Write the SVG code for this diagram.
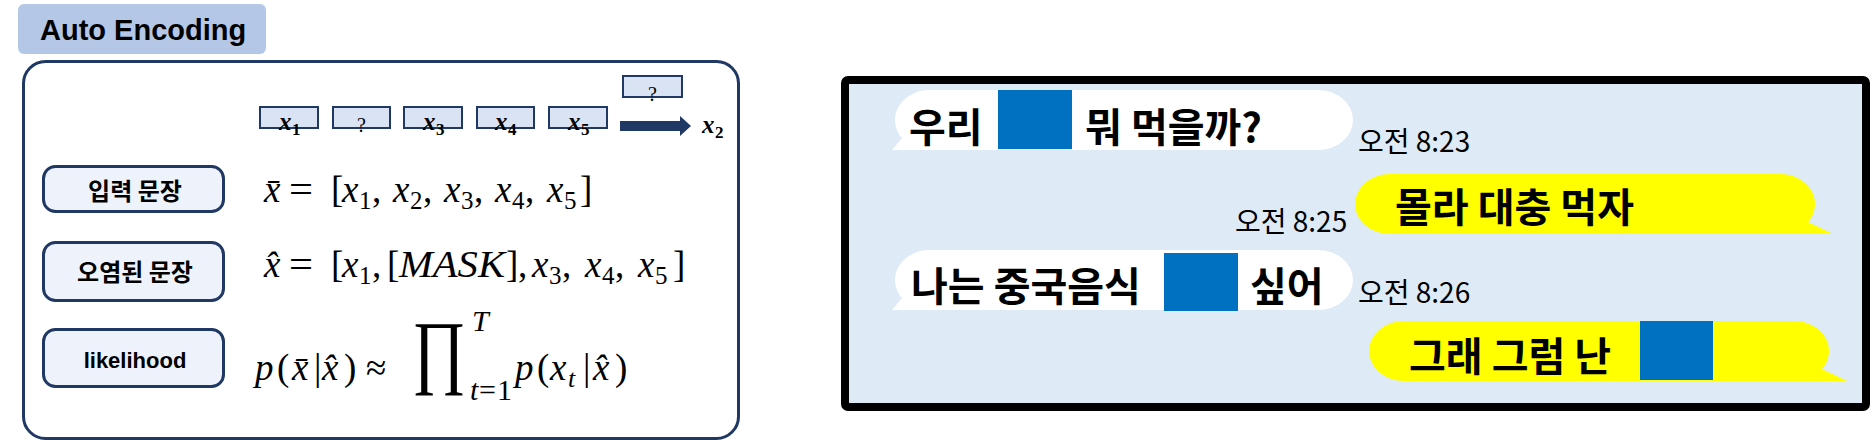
<svg xmlns="http://www.w3.org/2000/svg" width="1872" height="442" viewBox="0 0 1872 442">
<style>
.btn{fill:#eef2fa;stroke:#203864;stroke-width:3;}
.tok{fill:#dae3f3;stroke:#203864;stroke-width:2;}
.kob{font-family:"Noto Sans CJK KR","Noto Sans",sans-serif;font-weight:bold;fill:#000;}
.ko{font-family:"Noto Sans CJK KR","Noto Sans",sans-serif;font-weight:normal;fill:#000;}
.latb{font-family:"Liberation Sans",Arial,sans-serif;font-weight:bold;fill:#000;}
.m{font-family:"Liberation Serif","Times New Roman",serif;font-style:italic;fill:#000;}
.r{font-style:normal;}
.msg{font-size:40px;}
.ts{font-size:28px;}
.blue{fill:#0070c0;}
.white{fill:#ffffff;}
.yel{fill:#ffff00;}
</style>

<g id="title">
<rect x="18" y="4" width="248" height="50" rx="6" fill="#b4c7e7"/>
<text class="latb" x="40" y="40" font-size="29">Auto Encoding</text>
</g>

<g id="panel-left">
<rect x="23.5" y="61.5" width="715" height="377" rx="22" fill="#ffffff" stroke="#203864" stroke-width="3"/>
</g>

<g id="tokens">
<g id="tok1"><rect class="tok" x="260" y="107" width="58" height="21"/><text class="m" font-weight="bold" font-size="25" y="130"><tspan x="279">x</tspan><tspan x="292" y="135" font-size="17" class="r">1</tspan></text></g>
<g id="tok2"><rect class="tok" x="333" y="107" width="57" height="21"/><text class="m r" font-size="20" x="361.5" y="132" text-anchor="middle">?</text></g>
<g id="tok3"><rect class="tok" x="404" y="107" width="58" height="21"/><text class="m" font-weight="bold" font-size="25" y="130"><tspan x="423">x</tspan><tspan x="436" y="135" font-size="17" class="r">3</tspan></text></g>
<g id="tok4"><rect class="tok" x="477" y="107" width="57" height="21"/><text class="m" font-weight="bold" font-size="25" y="130"><tspan x="495">x</tspan><tspan x="508" y="135" font-size="17" class="r">4</tspan></text></g>
<g id="tok5"><rect class="tok" x="549" y="107" width="58" height="21"/><text class="m" font-weight="bold" font-size="25" y="130"><tspan x="568">x</tspan><tspan x="581" y="135" font-size="17" class="r">5</tspan></text></g>
<g id="tok-out"><rect class="tok" x="623" y="76" width="59" height="21"/><text class="m r" font-size="20" x="652.5" y="101" text-anchor="middle">?</text></g>
<g id="x2-label"><text class="m" font-weight="bold" font-size="25" y="133"><tspan x="702">x</tspan><tspan x="715" y="138" font-size="17" class="r">2</tspan></text></g>
</g>

<g id="connectors">
<polygon points="620,121 680,121 680,116 691,126 680,136 680,131 620,131" fill="#203864"/>
</g>

<g id="btn-input">
<rect class="btn" x="43.5" y="166.5" width="180" height="45" rx="12"/>
<text class="kob" x="135" y="200" font-size="24" text-anchor="middle">입력 문장</text>
</g>
<g id="btn-corrupt">
<rect class="btn" x="43.5" y="242.5" width="180" height="58" rx="12"/>
<text class="kob" x="135" y="281" font-size="24" text-anchor="middle">오염된 문장</text>
</g>
<g id="btn-likelihood">
<rect class="btn" x="43.5" y="329.5" width="180" height="57" rx="12"/>
<text class="latb" x="135" y="368" font-size="22" text-anchor="middle">likelihood</text>
</g>

<g id="formula-input">
<text class="m" font-size="37" y="202">
<tspan x="264">x̄</tspan><tspan x="289" class="r" textLength="24" lengthAdjust="spacingAndGlyphs">=</tspan><tspan x="331" class="r">[</tspan>
<tspan x="342">x</tspan><tspan x="359" y="209" font-size="25" class="r">1</tspan><tspan x="372" y="202" class="r">,</tspan>
<tspan x="393">x</tspan><tspan x="410" y="209" font-size="25" class="r">2</tspan><tspan x="423" y="202" class="r">,</tspan>
<tspan x="444">x</tspan><tspan x="461" y="209" font-size="25" class="r">3</tspan><tspan x="474" y="202" class="r">,</tspan>
<tspan x="495">x</tspan><tspan x="512" y="209" font-size="25" class="r">4</tspan><tspan x="525" y="202" class="r">,</tspan>
<tspan x="547">x</tspan><tspan x="564" y="209" font-size="25" class="r">5</tspan><tspan x="580" y="202" class="r">]</tspan>
</text>
</g>

<g id="formula-corrupt">
<text class="m" font-size="37" y="277">
<tspan x="264">x̂</tspan><tspan x="289" class="r" textLength="24" lengthAdjust="spacingAndGlyphs">=</tspan><tspan x="331" class="r">[</tspan>
<tspan x="342">x</tspan><tspan x="359" y="284" font-size="25" class="r">1</tspan><tspan x="372" y="277" class="r">,</tspan>
<tspan x="387" class="r">[</tspan><tspan x="399" textLength="106" lengthAdjust="spacingAndGlyphs">MASK</tspan><tspan x="506" class="r">]</tspan><tspan x="518" class="r">,</tspan>
<tspan x="532">x</tspan><tspan x="549" y="284" font-size="25" class="r">3</tspan><tspan x="562" y="277" class="r">,</tspan>
<tspan x="585">x</tspan><tspan x="602" y="284" font-size="25" class="r">4</tspan><tspan x="615" y="277" class="r">,</tspan>
<tspan x="638">x</tspan><tspan x="655" y="284" font-size="25" class="r">5</tspan><tspan x="673" y="277" class="r">]</tspan>
</text>
</g>

<g id="formula-likelihood">
<text class="m" font-size="37" y="380">
<tspan x="255">p</tspan><tspan x="277" class="r">(</tspan><tspan x="292">x̄</tspan><tspan x="314" class="r">|</tspan><tspan x="322">x̂</tspan><tspan x="344" class="r">)</tspan><tspan x="366" class="r">≈</tspan>
</text>
<text class="m r" font-size="82" transform="translate(412,378) scale(0.8,1)" x="0" y="0">∏</text>
<text class="m" font-size="30" x="472" y="331">T</text>
<text class="m" font-size="30" y="400"><tspan x="470">t</tspan><tspan x="479" class="r">=</tspan><tspan x="497" class="r">1</tspan></text>
<text class="m" font-size="37" y="380">
<tspan x="515">p</tspan><tspan x="537" class="r">(</tspan><tspan x="550">x</tspan><tspan x="568" y="387" font-size="26">t</tspan><tspan x="583" y="380" class="r">|</tspan><tspan x="593">x̂</tspan><tspan x="615" class="r">)</tspan>
</text>
</g>

<g id="chat-panel">
<rect x="845" y="80" width="1021" height="327" rx="3" fill="#deebf7" stroke="#000" stroke-width="8"/>
</g>

<g id="msg1">
<path class="white" d="M930,90 H1318 A35,30 0 0 1 1318,150 H892 L902,138 A35,30 0 0 1 930,90 Z"/>
<rect class="blue" x="998" y="90" width="74" height="59"/>
<text class="kob msg" x="909" y="142">우리</text>
<text class="kob msg" x="1085" y="142">뭐 먹을까?</text>
</g>
<g id="time1"><text class="ko ts" x="1358" y="152">오전 8:23</text></g>

<g id="msg2">
<path class="yel" d="M1390,174 H1780 A35,30 0 0 1 1808,222 L1833,234 H1390 A35,30 0 0 1 1390,174 Z"/>
<text class="kob msg" x="1395" y="222">몰라 대충 먹자</text>
</g>
<g id="time2"><text class="ko ts" x="1235" y="232">오전 8:25</text></g>

<g id="msg3">
<path class="white" d="M930,250 H1318 A35,30 0 0 1 1318,310 H892 L902,298 A35,30 0 0 1 930,250 Z"/>
<rect class="blue" x="1164" y="253" width="74" height="58"/>
<text class="kob msg" x="911" y="301">나는 중국음식</text>
<text class="kob msg" x="1250" y="301">싶어</text>
</g>
<g id="time3"><text class="ko ts" x="1358" y="303">오전 8:26</text></g>

<g id="msg4">
<path class="yel" d="M1404,321 H1794 A35,30 0 0 1 1822,369 L1847,381 H1404 A35,30 0 0 1 1404,321 Z"/>
<rect class="blue" x="1640" y="321" width="73" height="59"/>
<text class="kob msg" x="1409" y="371">그래 그럼 난</text>
</g>
</svg>
